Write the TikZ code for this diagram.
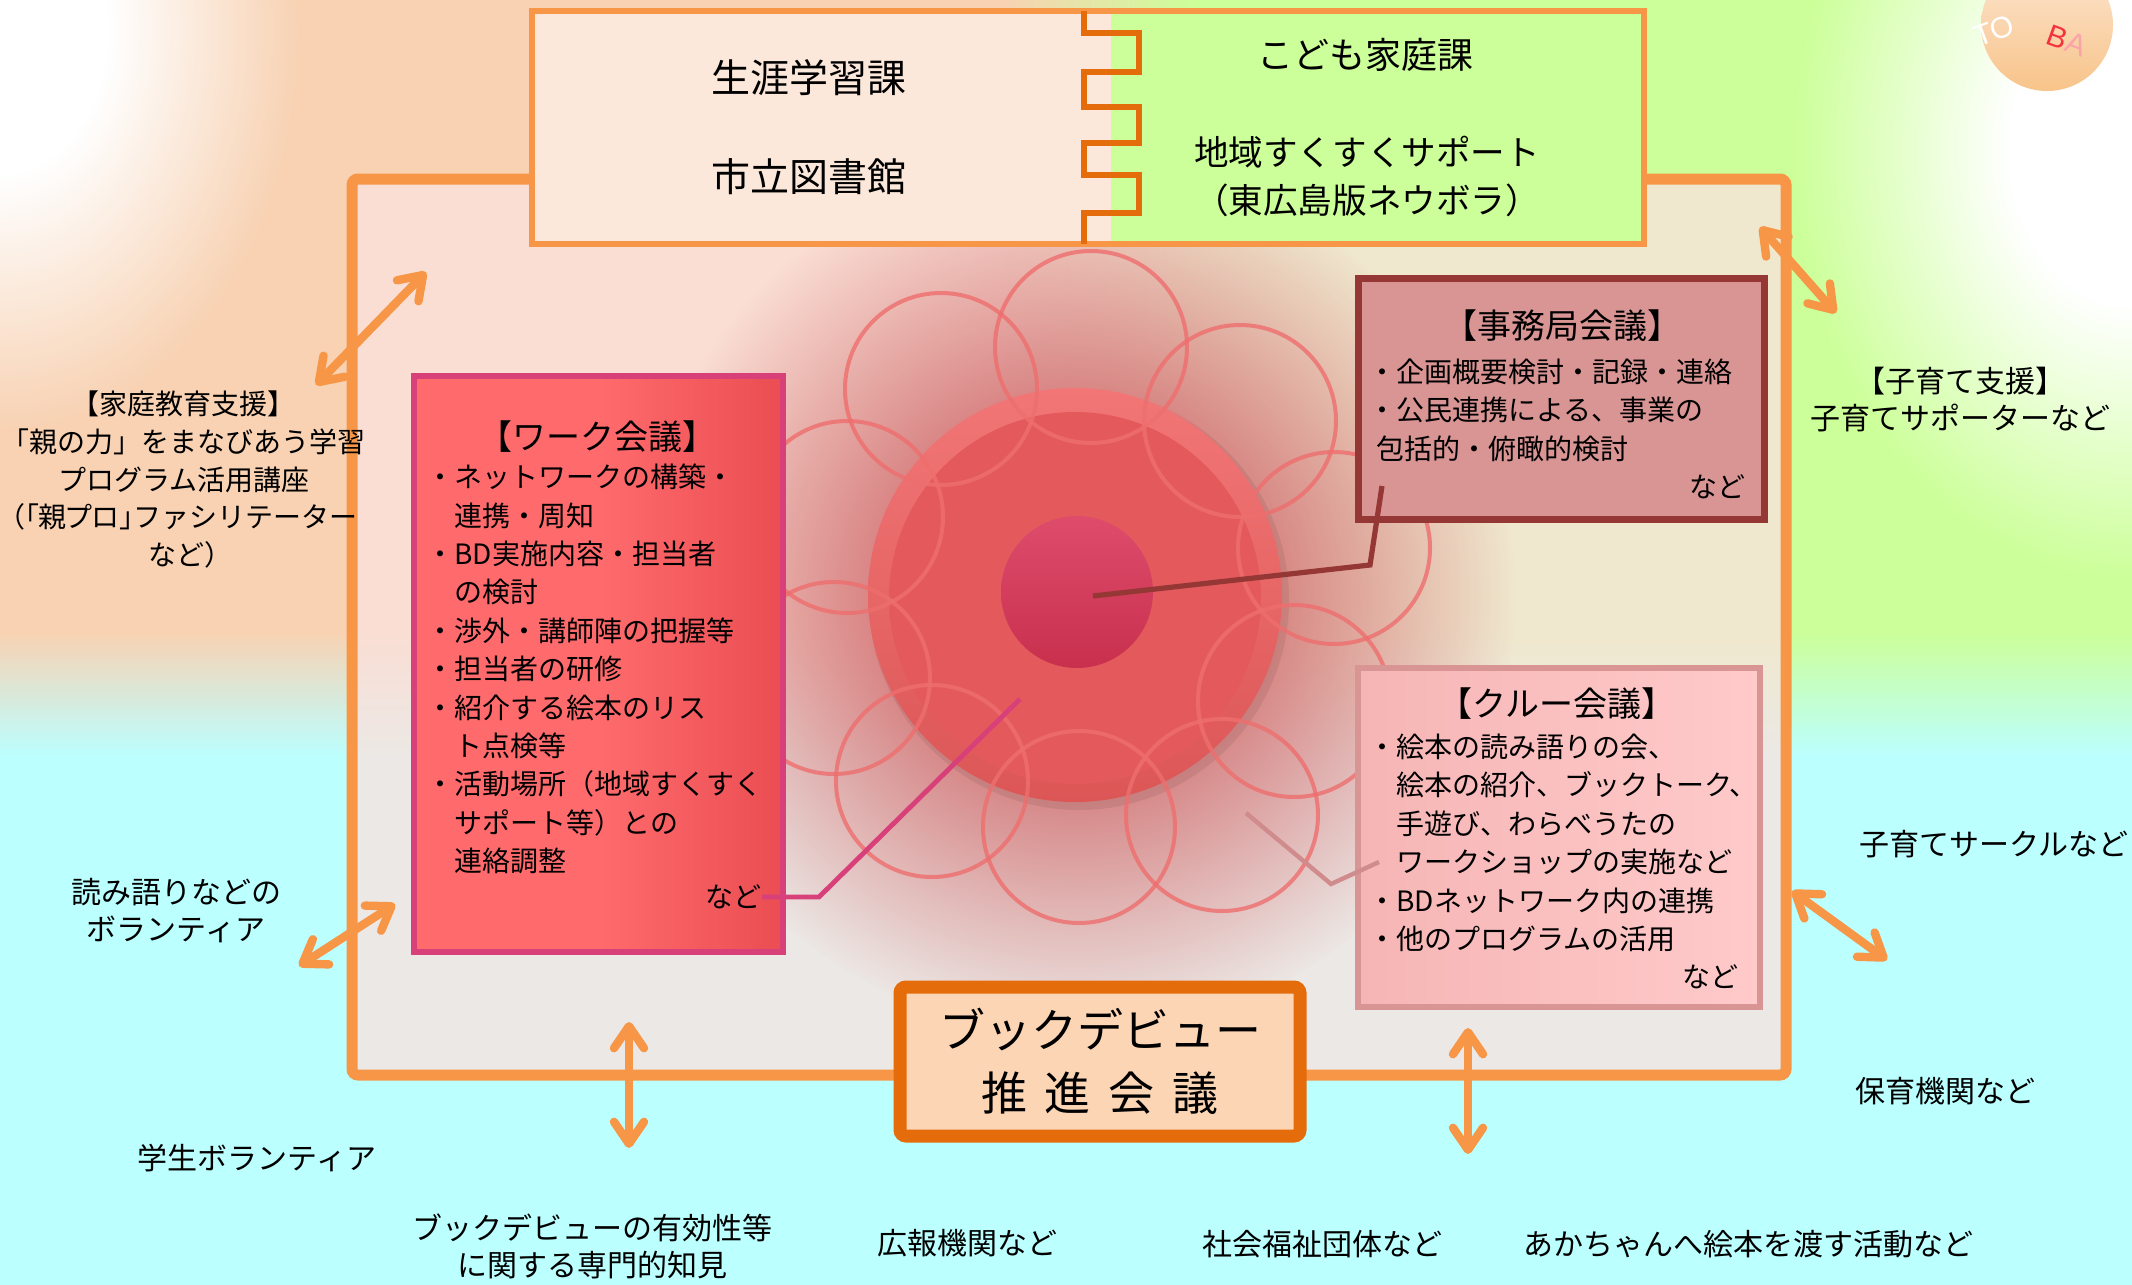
\documentclass[tikz,border=0pt]{standalone}
\usepackage{fontspec}
\newfontfamily\jpfont{Noto Sans CJK JP}
\newfontfamily\jpprop[RawFeature=+palt]{Noto Sans CJK JP}
\newfontfamily\logofont{Liberation Sans}
\usetikzlibrary{arrows.meta,fadings}

\definecolor{frameorange}{HTML}{F79646}
\definecolor{deeporange}{HTML}{E46C0A}
\definecolor{bgpeach}{HTML}{F8D2B3}
\definecolor{bggreen}{HTML}{CCFF99}
\definecolor{bgcyan}{HTML}{BBFFFF}
\colorlet{bgmid}{bgpeach!50!bggreen}
\definecolor{boxpeach}{HTML}{FCE8DA}
\definecolor{framefill}{HTML}{FBE2DE}
\definecolor{glowred}{HTML}{D37677}
\definecolor{petal}{HTML}{EE6E6E}
\definecolor{discred}{HTML}{E45A5C}
\definecolor{discrim}{HTML}{F27676}
\definecolor{discdark}{HTML}{DC5656}
\definecolor{coretop}{HTML}{DE4C6C}
\definecolor{corebottom}{HTML}{C8304D}
\definecolor{workred}{HTML}{FF6B6D}
\definecolor{workdark}{HTML}{EA4D52}
\definecolor{workedge}{HTML}{D8407A}
\definecolor{jimufill}{HTML}{D99594}
\definecolor{jimuedge}{HTML}{953735}
\definecolor{crewfill}{HTML}{FFCACA}
\definecolor{crewleft}{HTML}{F6B5B5}
\definecolor{crewedge}{HTML}{D99594}
\definecolor{crewline}{HTML}{D08C8C}
\definecolor{debutfill}{HTML}{FCD5B5}
\definecolor{logotop}{HTML}{FCE6D2}
\definecolor{logobottom}{HTML}{F8C48A}
\definecolor{logored}{HTML}{F5333F}

% soft round glow, solid in the middle
\pgfdeclareradialshading{glowshade}{\pgfpointorigin}{color(0bp)=(white); color(9bp)=(white); color(25bp)=(black); color(50bp)=(black)}
\pgfdeclarefading{glowfade}{\pgfuseshading{glowshade}}

\tikzset{
  panel/.style={line width=3pt, inner sep=0pt, outer sep=0pt},
  paneltitle/.style={font=\jpfont\fontsize{17}{20}\selectfont, inner sep=0pt},
  bulletlist/.style={font=\jpfont\fontsize{14}{19.2}\selectfont, align=left, anchor=west, inner sep=0pt},
  moretag/.style={font=\jpfont\fontsize{14}{17}\selectfont, anchor=east, inner sep=0pt},
  outside/.style={font=\jpfont\fontsize{15}{18.5}\selectfont, align=center, inner sep=0pt},
  petalring/.style={draw=petal, line width=2pt, draw opacity=.8},
  twoway/.style={draw=frameorange, line width=4.2pt, <->, >={Straight Barb[round,length=11pt,width=15pt]}},
  logoword/.style={font=\logofont\fontsize{15}{15}\selectfont, inner sep=0pt}
}

\begin{document}
\begin{tikzpicture}[x=0.5pt, y=-0.5pt, font=\jpfont]
\useasboundingbox (0,0) rectangle (2132,1285);
\clip (0,0) rectangle (2132,1285);

% background
\fill[bgcyan] (0,0) rectangle (2132,1285);
\fill[bgpeach] (0,0) rectangle (1000,631);
\shade[left color=bgpeach, right color=bggreen] (1000,0) rectangle (1200,631);
\fill[bggreen] (1200,0) rectangle (2132,631);
% blend down into the cyan, strip by strip
\foreach \i in {0,...,25} {
  \pgfmathtruncatemacro\mix{4*\i}
  \fill[bgcyan!\mix!bgpeach] (0,630+5*\i) rectangle (1000,636+5*\i);
  \fill[bgcyan!\mix!bgmid] (1000,630+5*\i) rectangle (1200,636+5*\i);
  \fill[bgcyan!\mix!bggreen] (1200,630+5*\i) rectangle (2132,636+5*\i);
}
\fill[white, path fading=glowfade] (0,30) ellipse [x radius=150pt, y radius=200pt];
\fill[white, path fading=glowfade] (2132,150) ellipse [x radius=170pt, y radius=215pt];

% frame and the flower
\fill[framefill, opacity=.77, rounded corners=3pt] (352,179) rectangle (1786,1075);
\fill[glowred, path fading=glowfade] (1075,595) circle[radius=220pt];
\fill[black, opacity=.07] (1079,600) circle[radius=105pt];
\node[circle, minimum size=207pt, inner sep=0pt, top color=discrim, bottom color=discdark] (disc) at (1075,595) {};
\fill[discred] (1075,598) circle[radius=93pt];
\node[circle, minimum size=76pt, inner sep=0pt, top color=coretop, bottom color=corebottom] (core) at (1077,592) {};
\foreach \cx/\cy in {1091/347, 941/389, 1240/421, 847/517, 1334/548, 834/678, 1294/701, 932/781, 1079/827, 1222/815}
  \draw[petalring] (\cx,\cy) circle[radius=48pt];
\draw[frameorange, line width=5.5pt, rounded corners=3pt] (352,179) rectangle (1786,1075);

% work meeting
\node[panel, draw=workedge, left color=workred, right color=workdark, middle color=workred, minimum width=184.5pt, minimum height=288pt] (work) at (598.5,664) {};
\node[paneltitle] (worktitle) at (597,437) {【ワーク会議】};
\node[bulletlist] (worklist) at (426,669) {・ネットワークの構築・\\\phantom{・}連携・周知\\・BD実施内容・担当者\\\phantom{・}の検討\\・渉外・講師陣の把握等\\・担当者の研修\\・紹介する絵本のリス\\\phantom{・}ト点検等\\・活動場所（地域すくすく\\\phantom{・}サポート等）との\\\phantom{・}連絡調整};
\node[moretag] (workmore) at (762,897) {など};

% office meeting
\node[panel, draw=jimuedge, fill=jimufill, line width=3.5pt, minimum width=203pt, minimum height=120.5pt] (jimu) at (1561.5,399) {};
\node[paneltitle] (jimutitle) at (1562,326) {【事務局会議】};
\node[bulletlist] (jimulist) at (1368,410) {・企画概要検討・記録・連絡\\・公民連携による、事業の\\\hspace*{4pt}包括的・俯瞰的検討};
\node[moretag] (jimumore) at (1746,487) {など};

% crew meeting
\node[panel, draw=crewedge, left color=crewleft, right color=crewfill, minimum width=201pt, minimum height=169.5pt] (crew) at (1559,837.5) {};
\node[paneltitle] (crewtitle) at (1557,704) {【クルー会議】};
\node[bulletlist] (crewlist) at (1368,843) {・絵本の読み語りの会、\\\phantom{・}絵本の紹介、ブックトーク、\\\phantom{・}手遊び、わらべうたの\\\phantom{・}ワークショップの実施など\\・BDネットワーク内の連携\\・他のプログラムの活用};
\node[moretag] (crewmore) at (1739,977) {など};

% leader lines into the flower
\coordinate (workbend) at (819,897);
\coordinate (workhub) at (1020,699);
\draw[workedge, line width=2.4pt] (workmore.east) -- (workbend) -- (workhub);
\coordinate (jimufoot) at (1382,486);
\coordinate (jimubend) at (1370,565);
\coordinate (jimuhub) at (1093,596);
\draw[jimuedge, line width=2.6pt] (jimufoot) -- (jimubend) -- (jimuhub);
\coordinate (crewfoot) at (1379,862);
\coordinate (crewbend) at (1331,884);
\coordinate (crewhub) at (1246,813);
\draw[crewline, line width=2.2pt] (crewfoot) -- (crewbend) -- (crewhub);

% the two offices on top
\fill[boxpeach] (532,11) rectangle (1111,244);
\fill[bggreen] (1111,11) rectangle (1644,244);
\draw[frameorange, line width=3pt] (532,11) rectangle (1644,244);
\draw[deeporange, line width=3pt] (1084,11) -- (1084,33) -- (1139,33) -- (1139,72) -- (1084,72)
  -- (1084,107) -- (1139,107) -- (1139,143) -- (1084,143)
  -- (1084,175) -- (1139,175) -- (1139,213) -- (1084,213) -- (1084,244);
\node[font=\jpfont\fontsize{19.5}{24}\selectfont] (lifelong) at (809,78) {生涯学習課};
\node[font=\jpfont\fontsize{19.5}{24}\selectfont] (library) at (809,177) {市立図書館};
\node[font=\jpfont\fontsize{18}{24}\selectfont] (family) at (1365,55) {こども家庭課};
\node[font=\jpfont\fontsize{17.3}{24}\selectfont, align=center] (support) at (1367,176) {地域すくすくサポート\\（東広島版ネウボラ）};

% promotion meeting
\node[draw=deeporange, fill=debutfill, line width=6.5pt, rounded corners=3pt, minimum width=200pt, minimum height=74.5pt, align=center, font=\jpfont\fontsize{23}{31.5}\selectfont] (debut) at (1100,1061.5) {ブックデビュー\\推\hspace{9pt}進\hspace{9pt}会\hspace{9pt}議};

% partners outside
\node[outside, font=\jpfont\fontsize{14}{18.85}\selectfont] (home) at (184,479.5) {【家庭教育支援】\\「親の力」をまなびあう学習\\プログラム活用講座\\{\jpprop （「親プロ」}ファシリテーター\\など{\jpprop ）}};
\node[outside] (reading) at (176,911) {読み語りなどの\\ボランティア};
\node[outside] (student) at (257,1158) {学生ボランティア};
\node[outside] (expert) at (592,1246.5) {ブックデビューの有効性等\\に関する専門的知見};
\node[outside] (press) at (967,1243) {広報機関など};
\node[outside] (welfare) at (1322,1244) {社会福祉団体など};
\node[outside] (handing) at (1748,1244) {あかちゃんへ絵本を渡す活動など};
\node[outside] (nursery) at (1945,1091) {保育機関など};
\node[outside] (circle) at (1994,844) {子育てサークルなど};
\node[outside] (kids) at (1960,399.5) {【子育て支援】\\子育てサポーターなど};

\coordinate (homeA) at (316,385);
\coordinate (homeB) at (426,272);
\coordinate (readA) at (299,966);
\coordinate (readB) at (395,904);
\coordinate (expertA) at (629,1148);
\coordinate (expertB) at (629,1022);
\coordinate (welfareA) at (1468,1154);
\coordinate (welfareB) at (1468,1028);
\coordinate (circleA) at (1887,960);
\coordinate (circleB) at (1792,891);
\coordinate (kidsA) at (1836,313);
\coordinate (kidsB) at (1760,227);
\draw[twoway] (homeA) -- (homeB);
\draw[twoway] (readA) -- (readB);
\draw[twoway] (expertA) -- (expertB);
\draw[twoway] (welfareA) -- (welfareB);
\draw[twoway] (circleA) -- (circleB);
\draw[twoway] (kidsA) -- (kidsB);

% logo in the corner
\shade[top color=logotop, bottom color=logobottom] (2047,25) circle[radius=33pt];
\node[logoword, text=white, rotate=20] (logoTO) at (1994,31) {TO};
\node[logoword, rotate=-20] (logoBA) at (2067,41) {\textcolor{logored}{B}\textcolor{logored!45}{A}};
\end{tikzpicture}
\end{document}
